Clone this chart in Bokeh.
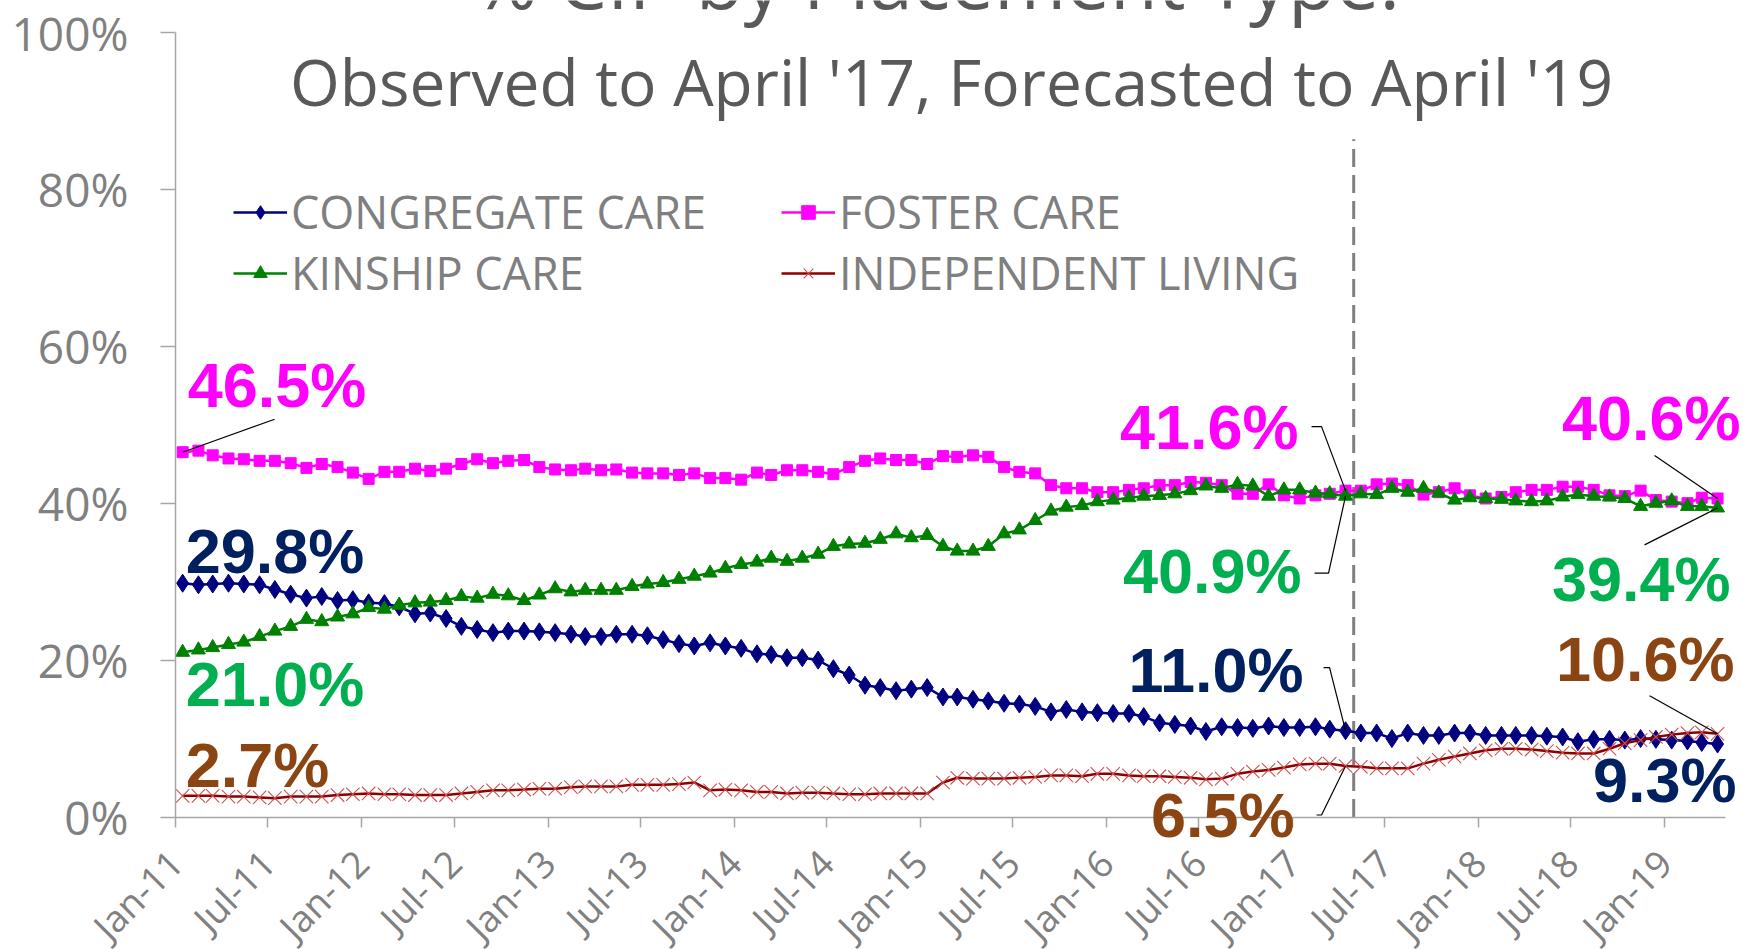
import math
from datetime import datetime, timedelta
from bokeh.plotting import figure
from bokeh.models import Range1d, FixedTicker, DatetimeTickFormatter, Legend, LegendItem, Label
from bokeh.embed import file_html
from bokeh.resources import INLINE

# ---------------- data ----------------
months = [datetime(2011 + k // 12, k % 12 + 1, 15) for k in range(100)]  # Jan-11 .. Apr-19

congregate = [29.8, 29.6, 29.7, 29.8, 29.7, 29.6, 29.0, 28.4, 27.9, 28.1, 27.6, 27.7, 27.3, 27.2, 26.8, 25.9,
              26.0, 25.3, 24.3, 23.9, 23.5, 23.7, 23.7, 23.6, 23.5, 23.3,
              23.0, 23.0, 23.3, 23.3, 23.1, 22.6, 22.1, 21.8, 22.2, 21.8, 21.5, 20.8, 20.7, 20.3, 20.3, 20.0,
              18.9, 18.1, 16.8, 16.5, 16.1, 16.3, 16.5, 15.3, 15.3,
              15.0, 14.8, 14.5, 14.4, 14.1, 13.4, 13.7, 13.4, 13.3, 13.2, 13.2, 12.8, 12.0, 11.8, 11.6, 10.9,
              11.5, 11.4, 11.3, 11.6, 11.4, 11.4, 11.5, 11.2, 11.0,
              10.7, 10.7, 10.0, 10.7, 10.4, 10.4, 10.7, 10.7, 10.4, 10.4, 10.4, 10.4, 10.3, 10.2, 9.6, 9.9,
              9.9, 9.8, 10.0, 9.9, 9.8, 9.7, 9.5, 9.3]

foster = [46.5, 46.7, 46.1, 45.7, 45.6, 45.4, 45.4, 45.1, 44.5, 45.0, 44.6, 43.9, 43.1, 44.0, 44.0, 44.4,
          44.1, 44.4, 45.0, 45.6, 45.1, 45.4, 45.5, 44.6, 44.3, 44.2,
          44.4, 44.2, 44.3, 43.9, 43.8, 43.8, 43.6, 43.8, 43.2, 43.2, 43.0, 43.9, 43.6, 44.2, 44.2, 44.0,
          43.7, 44.6, 45.4, 45.7, 45.5, 45.5, 45.0, 46.0, 45.9,
          46.1, 45.9, 44.6, 44.0, 43.8, 42.3, 41.9, 41.9, 41.4, 41.4, 41.7, 41.9, 42.3, 42.3, 42.7, 42.6,
          42.3, 41.2, 41.2, 42.4, 41.0, 40.6, 41.0, 41.2, 41.6,
          41.6, 42.4, 42.5, 42.3, 41.1, 41.4, 41.9, 41.0, 40.6, 40.8, 41.4, 41.7, 41.7, 42.1, 42.1, 41.7,
          41.0, 40.9, 41.6, 40.4, 40.2, 40.0, 40.7, 40.6]

kinship = [21.0, 21.3, 21.6, 22.0, 22.3, 23.0, 23.7, 24.3, 25.2, 24.9, 25.5, 25.9, 26.7, 26.5, 27.0, 27.3,
           27.4, 27.6, 28.1, 27.9, 28.4, 28.2, 27.6, 28.3, 29.1, 28.7,
           28.9, 28.9, 28.9, 29.4, 29.7, 29.9, 30.3, 30.7, 31.1, 31.7, 32.2, 32.5, 33.0, 32.6, 33.0, 33.5,
           34.5, 34.8, 34.9, 35.4, 36.1, 35.6, 35.9, 34.5, 33.9,
           33.9, 34.5, 36.1, 36.6, 37.8, 39.0, 39.5, 39.7, 40.2, 40.4, 40.7, 40.9, 41.0, 41.2, 41.6, 42.2,
           41.9, 42.4, 42.2, 40.9, 41.7, 41.7, 41.3, 41.2, 40.9,
           41.2, 41.1, 41.9, 41.4, 41.9, 41.3, 40.4, 40.7, 40.6, 40.5, 40.3, 40.2, 40.3, 40.8, 41.1, 40.9,
           40.8, 40.6, 39.6, 40.0, 40.3, 39.6, 39.6, 39.4]

independent = [2.7, 2.7, 2.7, 2.6, 2.6, 2.5, 2.4, 2.6, 2.6, 2.6, 2.8, 2.9, 3.0, 2.9, 2.9, 2.8,
               2.8, 2.8, 3.0, 3.2, 3.4, 3.4, 3.5, 3.6, 3.6, 3.8,
               3.9, 3.9, 3.9, 4.1, 4.1, 4.1, 4.2, 4.4, 3.4, 3.5, 3.4, 3.2, 3.2, 3.0, 3.1, 3.1,
               3.0, 2.9, 2.9, 3.0, 3.0, 3.0, 3.0, 4.4, 5.0,
               4.9, 4.9, 4.9, 5.0, 5.1, 5.3, 5.3, 5.2, 5.5, 5.5, 5.3, 5.2, 5.2, 5.1, 5.0, 4.8,
               4.9, 5.5, 5.8, 6.0, 6.3, 6.7, 6.8, 6.8, 6.5,
               6.4, 6.2, 6.2, 6.2, 6.8, 7.3, 7.7, 8.1, 8.5, 8.7, 8.7, 8.6, 8.4, 8.2, 8.1, 8.1,
               8.7, 9.4, 9.8, 10.2, 10.5, 10.7, 10.8, 10.6]

x_tick_dates = [datetime(2011 + k // 2, 1 + 6 * (k % 2), 1) for k in range(17)]  # Jan-11 .. Jan-19
y_ticks = [0, 20, 40, 60, 80, 100]
y_tick_labels = {v: f"{v}%" for v in y_ticks}
forecast_start = datetime(2017, 5, 1)
axis_start, axis_end = datetime(2011, 1, 1), datetime(2019, 5, 1)

title_top = "% CIP by Placement Type:"
title_sub = "Observed to April '17, Forecasted to April '19"

# ---------------- layout / styling ----------------
W, H = 1743, 949
AXIS_X_PX = 175          # pixel column of the y axis (Jan-11)
AXIS_Y_PX = 816.5        # pixel row of the x axis (0%)
PX_PER_DAY = 0.5096
PX_PER_PCT = 7.845

C_CONG, C_FOST, C_KIN, C_IND_LINE, C_IND_MK = "#000080", "#FF00FF", "#008000", "#8B0000", "#D05050"
L_CONG, L_FOST, L_KIN, L_IND = "#002060", "#FF00FF", "#00B050", "#8B4513"
GREY = "#808080"
TEXT_FONT = "Open Sans"


def ms(d):
    return (d - datetime(1970, 1, 1)).total_seconds() * 1000.0


MS_PER_PX = 86400000.0 / PX_PER_DAY
Y_PER_PX = 1.0 / PX_PER_PCT
x_lo = axis_start - timedelta(days=AXIS_X_PX / PX_PER_DAY)
x_hi = axis_start + timedelta(days=(W - AXIS_X_PX) / PX_PER_DAY)
y_lo = -(H - AXIS_Y_PX) / PX_PER_PCT
y_hi = 100 + (AXIS_Y_PX - 100 * PX_PER_PCT) / PX_PER_PCT


def sx(px):   # pixel column -> data x (ms)
    return ms(x_lo) + px * MS_PER_PX


def sy(py):   # pixel row -> data y
    return y_hi - py * Y_PER_PX


p = figure(width=W, height=H, output_backend="svg", toolbar_location=None,
           x_axis_type="datetime", x_range=Range1d(x_lo, x_hi), y_range=Range1d(y_lo, y_hi),
           min_border=0, min_border_left=0, min_border_right=0, min_border_top=0, min_border_bottom=0)
p.outline_line_color = None
p.xgrid.visible = False
p.ygrid.visible = False
p.background_fill_color = "white"
p.border_fill_color = "white"

# axes (fixed inside the frame so the frame fills the canvas)
fmt = "%b-%y"
p.xaxis.fixed_location = 0
p.xaxis.bounds = (ms(axis_start), ms(axis_end))
p.xaxis.ticker = FixedTicker(ticks=[ms(d) for d in x_tick_dates])
p.xaxis.formatter = DatetimeTickFormatter(microseconds=fmt, milliseconds=fmt, seconds=fmt, minsec=fmt,
                                          minutes=fmt, hourmin=fmt, hours=fmt, days=fmt, months=fmt, years=fmt)
p.xaxis.major_label_orientation = math.pi / 4
p.xaxis.major_label_text_font = TEXT_FONT
p.xaxis.major_label_text_font_size = "37px"
p.xaxis.major_label_text_color = GREY
p.xaxis.major_label_standoff = 29
p.xaxis.major_tick_out = 10
p.xaxis.major_tick_in = 0
p.xaxis.minor_tick_line_color = None

p.yaxis.fixed_location = ms(axis_start)
p.yaxis.bounds = (0, 100)
p.yaxis.ticker = FixedTicker(ticks=y_ticks)
p.yaxis.major_label_overrides = y_tick_labels
p.yaxis.major_label_text_font = TEXT_FONT
p.yaxis.major_label_text_font_size = "46px"
p.yaxis.major_label_text_color = GREY
p.yaxis.major_label_standoff = 32
p.yaxis.major_tick_out = 15
p.yaxis.major_tick_in = 0
p.yaxis.minor_tick_line_color = None
for ax in (p.xaxis, p.yaxis):
    ax.axis_line_color = "#A6A6A6"
    ax.axis_line_width = 1.5
    ax.major_tick_line_color = "#A6A6A6"
    ax.major_tick_line_width = 1.5

# forecast divider
p.line([forecast_start, forecast_start], [0, 86.4], line_color=GREY, line_width=3, line_dash="18 8")

# series
l1 = p.line(months, congregate, line_color=C_CONG, line_width=2.5)
s1 = p.scatter(months, congregate, marker="diamond", size=18, fill_color=C_CONG, line_color=C_CONG)
l2 = p.line(months, foster, line_color=C_FOST, line_width=2.5)
s2 = p.scatter(months, foster, marker="square", size=11, fill_color=C_FOST, line_color=C_FOST)
l3 = p.line(months, kinship, line_color=C_KIN, line_width=2.5)
s3 = p.scatter(months, kinship, marker="triangle", size=14, fill_color=C_KIN, line_color=C_KIN)
l4 = p.line(months, independent, line_color=C_IND_LINE, line_width=2.5)
s4 = p.scatter(months, independent, marker="x", size=19, line_color=C_IND_MK, line_width=1.1)

legend = Legend(items=[LegendItem(label="CONGREGATE CARE", renderers=[l1, s1]),
                       LegendItem(label="FOSTER CARE", renderers=[l2, s2]),
                       LegendItem(label="KINSHIP CARE", renderers=[l3, s3]),
                       LegendItem(label="INDEPENDENT LIVING", renderers=[l4, s4])],
                orientation="horizontal", ncols=2, location=(233, 646),
                glyph_width=54, glyph_height=34, label_standoff=4, label_width=490, spacing=0,
                padding=0, margin=0, border_line_alpha=0, background_fill_alpha=0,
                label_text_font=TEXT_FONT, label_text_font_size="45px", label_text_color="#7F7F7F")
p.add_layout(legend)

# titles (baseline rows in pixels; 0.33 em compensates the rendered baseline)
for txt, cx, base, size in [(title_top, 936, 4, 78), (title_sub, 951, 102, 64)]:
    p.add_layout(Label(x=sx(cx), y=sy(base - 0.33 * size), text=txt, text_align="center",
                       text_baseline="alphabetic", text_font=TEXT_FONT, text_font_size=f"{size}px",
                       text_color="#595959"))

# data labels: (series, index, colour, align, dx px, dy px up from the point)
LABEL_PX = 63
label_specs = [
    (foster, 0, L_FOST, "left", 5, 46), (congregate, 0, L_CONG, "left", 3, 11),
    (kinship, 0, L_KIN, "left", 3, -53), (independent, 0, L_IND, "left", 3, 10),
    (foster, 75, L_FOST, "right", -47, 43), (kinship, 75, L_KIN, "right", -44, -96),
    (congregate, 75, L_CONG, "right", -42, 40), (independent, 75, L_IND, "right", -51, -70),
    (foster, 99, L_FOST, "right", 23, 60), (kinship, 99, L_KIN, "right", 13, -92),
    (independent, 99, L_IND, "right", 17, 54), (congregate, 99, L_CONG, "right", 19, -57),
]
for ser, i, col, align, dx, dy in label_specs:
    p.add_layout(Label(x=ms(months[i]), y=ser[i], x_offset=dx, y_offset=dy + 0.33 * LABEL_PX,
                       text=f"{ser[i]:.1f}%", text_align=align, text_baseline="alphabetic",
                       text_font="Liberation Sans", text_font_style="bold",
                       text_font_size=f"{LABEL_PX}px", text_color=col))

# leader lines: (series, index, list of px offsets (right, up) from the point)
leader_specs = [
    (foster, 0, [(92, 33)]),
    (foster, 75, [(-24, 64), (-34, 64)]),
    (kinship, 75, [(-17, -77), (-31, -77)]),
    (congregate, 75, [(-16, 63), (-22, 63)]),
    (independent, 75, [(-24, -49), (-29, -49)]),
    (foster, 99, [(-63, 43)]),
    (kinship, 99, [(-73, -37)]),
    (independent, 99, [(-68, 38)]),
]
for ser, i, offs in leader_specs:
    xs = [ms(months[i])] + [ms(months[i]) + ox * MS_PER_PX for ox, oy in offs]
    ys = [ser[i]] + [ser[i] + oy * Y_PER_PX for ox, oy in offs]
    p.line(xs, ys, line_color="black", line_width=1.2)

open("out.html", "w").write(file_html(p, INLINE))
